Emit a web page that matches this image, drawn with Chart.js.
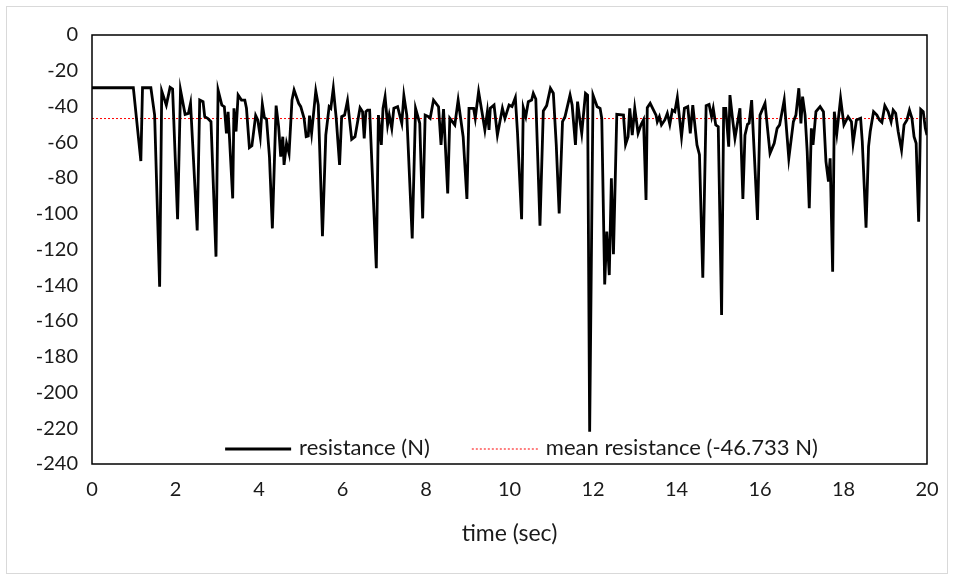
<!DOCTYPE html>
<html>
<head>
<meta charset="utf-8">
<script src="https://cdn.jsdelivr.net/npm/chart.js@4.4.1/dist/chart.umd.min.js"></script>
<style>
  html, body { margin: 0; padding: 0; background: #fff; }
  #wrap { position: relative; width: 956px; height: 581px; }
  #frame { position: absolute; left: 6px; top: 6px; width: 942px; height: 568px; border: 1px solid #d9d9d9; box-sizing: border-box; pointer-events: none; }
</style>
</head>
<body>
<div id="wrap">
  <canvas id="plots" width="956" height="581"></canvas>
  <div id="frame"></div>
</div>
<script>
// resistance trace (time in sec, force in N)
var times = [
  0.00, 0.99, 1.17, 1.21, 1.41, 1.50, 1.62, 1.67, 1.78, 1.87, 1.93, 2.05, 2.12, 2.23, 2.31, 2.36,
  2.52, 2.58, 2.66, 2.70, 2.77, 2.85, 2.97, 3.02, 3.11, 3.17, 3.22, 3.26, 3.37, 3.40, 3.45, 3.50,
  3.58, 3.66, 3.70, 3.77, 3.83, 3.92, 3.97, 4.03, 4.08, 4.13, 4.18, 4.25, 4.32, 4.41, 4.47, 4.52,
  4.57, 4.60, 4.66, 4.72, 4.79, 4.84, 4.95, 5.00, 5.08, 5.13, 5.18, 5.21, 5.26, 5.36, 5.42, 5.52,
  5.60, 5.68, 5.72, 5.78, 5.85, 5.93, 5.98, 6.05, 6.12, 6.22, 6.30, 6.42, 6.48, 6.52, 6.56, 6.60,
  6.65, 6.81, 6.86, 6.93, 6.97, 7.02, 7.08, 7.12, 7.18, 7.23, 7.32, 7.42, 7.47, 7.54, 7.67, 7.75,
  7.85, 7.92, 7.98, 8.06, 8.10, 8.18, 8.30, 8.36, 8.42, 8.52, 8.57, 8.69, 8.77, 8.89, 8.98, 9.03,
  9.14, 9.18, 9.26, 9.34, 9.41, 9.47, 9.51, 9.54, 9.63, 9.71, 9.77, 9.83, 9.89, 9.99, 10.06, 10.14,
  10.19, 10.29, 10.33, 10.39, 10.45, 10.53, 10.57, 10.63, 10.73, 10.81, 10.89, 10.98, 11.05, 11.12, 11.19, 11.27,
  11.33, 11.45, 11.50, 11.58, 11.63, 11.69, 11.73, 11.82, 11.87, 11.92, 12.00, 12.10, 12.17, 12.21, 12.28, 12.33,
  12.39, 12.44, 12.49, 12.57, 12.73, 12.78, 12.84, 12.88, 12.94, 13.00, 13.08, 13.15, 13.21, 13.27, 13.30, 13.37,
  13.45, 13.51, 13.54, 13.59, 13.64, 13.72, 13.78, 13.84, 13.90, 13.96, 14.02, 14.12, 14.19, 14.27, 14.33, 14.39,
  14.49, 14.55, 14.63, 14.71, 14.78, 14.84, 14.88, 14.94, 15.00, 15.08, 15.13, 15.18, 15.25, 15.28, 15.35, 15.40,
  15.52, 15.59, 15.64, 15.70, 15.74, 15.80, 15.86, 15.94, 16.00, 16.12, 16.24, 16.34, 16.41, 16.47, 16.58, 16.69,
  16.80, 16.86, 16.93, 16.98, 17.02, 17.08, 17.13, 17.18, 17.23, 17.27, 17.34, 17.44, 17.52, 17.58, 17.64, 17.68,
  17.74, 17.78, 17.84, 17.93, 18.01, 18.11, 18.19, 18.23, 18.31, 18.41, 18.45, 18.54, 18.60, 18.64, 18.72, 18.80,
  18.86, 18.92, 18.99, 19.07, 19.14, 19.19, 19.25, 19.31, 19.39, 19.45, 19.52, 19.58, 19.64, 19.69, 19.74, 19.80,
  19.85, 19.91, 19.96, 20.00
];
var resistance = [
  -29.5, -29.5, -70.5, -29.5, -29.5, -44.8, -140.8, -31.3, -39.2, -29.3, -30.2, -103, -30.8, -44.4, -43.8, -38.2,
  -109.3, -36.4, -37.3, -45.7, -46.6, -48.5, -124, -30.8, -39.2, -40.1, -55, -43, -91.4, -41, -54, -33.6,
  -36.4, -36.4, -41, -63, -62, -45, -47.5, -56.9, -38.8, -46.3, -47, -68, -108.2, -39.5, -51.3, -68,
  -56.9, -72.7, -60.6, -66.2, -36.4, -30.8, -38.2, -40.1, -46.6, -56.9, -56.5, -45.1, -55, -31.3, -39.2, -112.5,
  -56, -40.1, -41, -29.8, -46.6, -72.7, -45.7, -44.8, -36.7, -58.4, -56.9, -40.7, -42.9, -57.8, -42.9, -42,
  -42, -130.5, -44.8, -61.5, -41, -34.5, -50.3, -44.8, -52.2, -41, -40.1, -49.4, -33.9, -44.8, -113.8, -41,
  -49.4, -102.6, -44.8, -45.7, -46.6, -36.4, -40.1, -61.5, -41.4, -88.6, -46.6, -50.3, -36.4, -56.9, -91.7, -41,
  -41, -46.6, -31.7, -42.9, -53.1, -42.9, -53.1, -41, -39.2, -56, -48.5, -41, -46.6, -39.2, -40, -35,
  -54, -103, -40.7, -45.7, -37.3, -36.4, -32.6, -35.8, -106.7, -42.5, -39.5, -29.8, -32.6, -61.5, -99.8, -48.5,
  -45.7, -33.6, -39.2, -61.5, -37.3, -48.5, -55, -32.6, -33.6, -221.9, -33.6, -40.1, -41, -46.6, -139.5, -110,
  -134.3, -80.2, -122.7, -44.4, -44.8, -61.2, -56.9, -41, -56, -41, -55, -50.3, -47.5, -92.3, -40.7, -38.2,
  -42, -44.8, -48.5, -45.7, -50.3, -47.5, -43.8, -50, -42, -42.9, -35, -56.9, -41, -40.1, -55, -39.2,
  -61.5, -67, -135.8, -39.5, -38.8, -45.7, -41, -50.3, -51.3, -156.6, -41, -41, -62.5, -33.6, -48.5, -57.8,
  -41, -91.7, -56, -50, -49.4, -36.4, -65, -103.5, -44.8, -38.2, -66.2, -60.6, -52.2, -50.3, -36.4, -69,
  -48.5, -44.8, -29.8, -49.4, -34.5, -44.8, -65, -96.9, -52.2, -61.5, -42.9, -40.1, -42.9, -70.8, -82, -69,
  -132.4, -42.9, -55, -35.4, -50.3, -45.7, -48.5, -60.6, -47.5, -46.6, -59.7, -107.8, -62.5, -54, -42.9, -44.8,
  -47.5, -48.9, -39.5, -42.9, -48.5, -42, -43.8, -54, -64.3, -50.3, -47.5, -42, -46.6, -56.9, -60.6, -104.4,
  -41.6, -42.9, -52.2, -56
];
var meanValue = -46.733;
var xTicks = [0, 2, 4, 6, 8, 10, 12, 14, 16, 18, 20];
var yTicks = [0, -20, -40, -60, -80, -100, -120, -140, -160, -180, -200, -220, -240];

var FONT = "Lato, 'Open Sans', sans-serif";

var trace = times.map(function (t, i) { return { x: t, y: resistance[i] }; });
var meanLine = [{ x: 0, y: meanValue }, { x: 20, y: meanValue }];

// legend drawn inside the plot, near its bottom edge
var insideLegend = {
  id: 'insideLegend',
  afterDraw: function (chart) {
    var c = chart.ctx, a = chart.chartArea;
    var y = a.bottom - 16;
    var sets = chart.data.datasets;
    c.save();
    c.font = "22px " + FONT;
    c.textBaseline = 'middle';
    c.fillStyle = '#1a1a1a';
    var sample = 66, gap = 8, between = 42;
    var total = 0;
    sets.forEach(function (ds, i) {
      total += sample + gap + c.measureText(ds.label).width + (i < sets.length - 1 ? between : 0);
    });
    var x = (a.left + a.right) / 2 - total / 2 + 12;
    sets.forEach(function (ds) {
      c.beginPath();
      c.strokeStyle = ds.borderColor;
      c.lineWidth = ds.borderWidth === 1 ? 1 : 3;
      c.setLineDash(ds.borderDash || []);
      c.moveTo(x, y + 1);
      c.lineTo(x + sample, y + 1);
      c.stroke();
      c.setLineDash([]);
      x += sample + gap;
      c.fillText(ds.label, x, y);
      x += c.measureText(ds.label).width + between;
    });
    c.restore();
  }
};

var plotBorder = {
  id: 'plotBorder',
  afterDatasetsDraw: function (chart) {
    var c = chart.ctx, a = chart.chartArea;
    c.save();
    c.strokeStyle = '#000';
    c.lineWidth = 1.5;
    c.strokeRect(a.left, a.top, a.right - a.left, a.bottom - a.top);
    c.restore();
  }
};

var ctx = document.getElementById("plots").getContext('2d');
var myChart = new Chart(ctx, {
  type: 'line',
  data: {
    datasets: [
      {
        label: 'resistance (N)',
        data: trace,
        borderColor: '#000000',
        borderWidth: 2.8,
        pointRadius: 0,
        tension: 0,
        fill: false
      },
      {
        label: 'mean resistance (-46.733 N)',
        data: meanLine,
        borderColor: '#ff0000',
        borderWidth: 1,
        borderDash: [2, 2],
        pointRadius: 0,
        fill: false
      }
    ]
  },
  options: {
    responsive: false,
    animation: false,
    layout: { padding: { left: 0, top: 35, right: 29, bottom: 30 } },
    plugins: {
      legend: { display: false },
      tooltip: { enabled: false }
    },
    scales: {
      x: {
        type: 'linear',
        min: 0,
        max: 20,
        afterBuildTicks: function (s) { s.ticks = xTicks.map(function (v) { return { value: v }; }); },
        afterFit: function (s) { s.height = 87; },
        grid: { display: false, drawTicks: false },
        border: { display: false },
        ticks: { padding: 14, color: '#1a1a1a', font: { family: FONT, size: 20 } },
        title: {
          display: true,
          text: 'time (sec)',
          color: '#1a1a1a',
          padding: { top: 4, bottom: 4 },
          font: { family: FONT, size: 23 }
        }
      },
      y: {
        min: -240,
        max: 0,
        afterBuildTicks: function (s) { s.ticks = yTicks.map(function (v) { return { value: v }; }); },
        afterFit: function (s) { s.width = 92; },
        grid: { display: false, drawTicks: false },
        border: { display: false },
        ticks: { padding: 14, color: '#1a1a1a', font: { family: FONT, size: 20 } }
      }
    }
  },
  plugins: [insideLegend, plotBorder]
});
</script>
</body>
</html>
